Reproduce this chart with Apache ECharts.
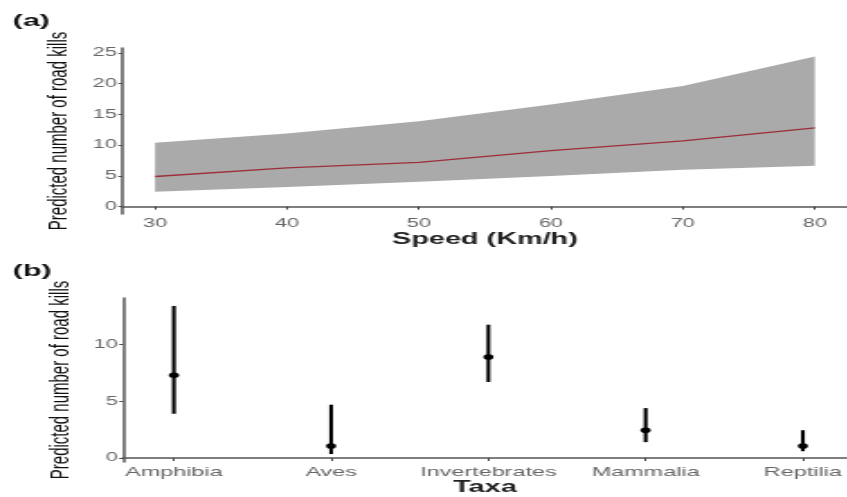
<!DOCTYPE html>
<html>
<head>
<meta charset="utf-8">
<script src="https://cdn.jsdelivr.net/npm/echarts@6/dist/echarts.min.js"></script>
<style>
html,body{margin:0;padding:0;background:#fff;overflow:hidden;width:847px;height:497px;}
#chart{width:470.56px;height:497px;transform:scaleX(1.8);transform-origin:0 0;}
</style>
</head>
<body>
<div id="chart"></div>
<script>
// Panel (a): predicted road kills vs speed
const speed = [30, 40, 50, 60, 70, 80];
const predFit = [4.9, 6.3, 7.2, 9.1, 10.7, 12.8];
const predLower = [2.4, 3.2, 4.05, 5.0, 6.0, 6.65];
const predUpper = [10.4, 11.9, 13.9, 16.6, 19.6, 24.4];
const speedTicks = [30, 40, 50, 60, 70, 80];
const killTicksA = [0, 5, 10, 15, 20, 25];

// Panel (b): predicted road kills by taxa
const taxa = ['Amphibia', 'Aves', 'Invertebrates', 'Mammalia', 'Reptilia'];
const taxaFit = [7.3, 1.05, 8.9, 2.45, 1.05];
const taxaLower = [3.9, 0.35, 6.7, 1.4, 0.6];
const taxaUpper = [13.4, 4.7, 11.75, 4.4, 2.45];
const killTicksB = [0, 5, 10];

const FONT = '"Liberation Sans", Arial, sans-serif';
const axisLineStyle = {color: '#555', width: 1.5};
const tickStyle = {color: '#444', width: 1};
const labelStyle = {color: '#666', fontSize: 12, fontFamily: FONT};

const bandData = speed.map((s, i) => [s, predLower[i], predUpper[i]]);
const fitData = predFit.map((v, i) => [speed[i], v]);
const taxaData = taxa.map((t, i) => [i + 1, taxaFit[i], taxaLower[i], taxaUpper[i]]);

const chart = echarts.init(document.getElementById('chart'), null, {renderer: 'canvas'});
chart.setOption({
  animation: false,
  backgroundColor: '#fff',
  title: [
    {text: '(a)', left: 2, top: 8, textStyle: {fontSize: 17, fontWeight: 'bold', color: '#111', fontFamily: FONT}},
    {text: '(b)', left: 2, top: 258, textStyle: {fontSize: 17, fontWeight: 'bold', color: '#111', fontFamily: FONT}}
  ],
  grid: [
    {left: 67.8, top: 48, width: 407.2, height: 166},
    {left: 68.3, top: 298, width: 402.2, height: 165}
  ],
  xAxis: [
    {
      type: 'value', gridIndex: 0, min: 27.5, max: 82.5,
      axisLine: {show: true, lineStyle: axisLineStyle},
      axisTick: {show: true, length: 3, lineStyle: tickStyle, customValues: speedTicks},
      axisLabel: Object.assign({margin: 4, customValues: speedTicks}, labelStyle),
      splitLine: {show: false},
      name: 'Speed (Km/h)', nameLocation: 'middle', nameGap: 18,
      nameTextStyle: {fontSize: 16, fontWeight: 'bold', color: '#222', fontFamily: FONT, verticalAlign: 'top'}
    },
    {
      type: 'value', gridIndex: 1, min: 0.676, max: 5.28,
      axisLine: {show: true, lineStyle: axisLineStyle},
      axisTick: {show: true, length: 3, lineStyle: tickStyle, customValues: [1, 2, 3, 4, 5]},
      axisLabel: Object.assign({margin: 4, customValues: [1, 2, 3, 4, 5],
        formatter: v => taxa[Math.round(v) - 1] || ''}, labelStyle, {fontSize: 13}),
      splitLine: {show: false},
      name: 'Taxa', nameLocation: 'middle', nameGap: 18,
      nameTextStyle: {fontSize: 16, fontWeight: 'bold', color: '#222', fontFamily: FONT, verticalAlign: 'top'}
    }
  ],
  yAxis: [
    {
      type: 'value', gridIndex: 0, min: -1.2, max: 25.8,
      axisLine: {show: true, lineStyle: axisLineStyle},
      axisTick: {show: true, length: 2, lineStyle: tickStyle, customValues: killTicksA},
      axisLabel: Object.assign({margin: 3, customValues: killTicksA}, labelStyle),
      splitLine: {show: false},
      name: 'Predicted number of road kills', nameLocation: 'middle', nameGap: 27,
      nameTextStyle: {fontSize: 15, color: '#111', fontFamily: FONT}
    },
    {
      type: 'value', gridIndex: 1, min: -0.35, max: 14.1,
      axisLine: {show: true, lineStyle: axisLineStyle},
      axisTick: {show: true, length: 2, lineStyle: tickStyle, customValues: killTicksB},
      axisLabel: Object.assign({margin: 3, customValues: killTicksB}, labelStyle),
      splitLine: {show: false},
      name: 'Predicted number of road kills', nameLocation: 'middle', nameGap: 27,
      nameTextStyle: {fontSize: 15, color: '#111', fontFamily: FONT}
    }
  ],
  series: [
    {
      type: 'custom', xAxisIndex: 0, yAxisIndex: 0, data: bandData,
      encode: {x: 0, y: [1, 2]}, silent: true, z: 1,
      renderItem: function (params, api) {
        if (params.dataIndex !== 0) return null;
        const upperPts = speed.map((s, i) => api.coord([s, predUpper[i]]));
        const lowerPts = speed.map((s, i) => api.coord([s, predLower[i]])).reverse();
        return {
          type: 'polygon',
          shape: {points: upperPts.concat(lowerPts)},
          style: {fill: '#aaaaaa', stroke: null}
        };
      }
    },
    {
      type: 'line', xAxisIndex: 0, yAxisIndex: 0, data: fitData, z: 3,
      symbol: 'none', lineStyle: {color: '#9c2f3a', width: 1.3}
    },
    {
      type: 'custom', xAxisIndex: 1, yAxisIndex: 1, data: taxaData,
      encode: {x: 0, y: [1, 2, 3]},
      renderItem: function (params, api) {
        const x = api.value(0);
        const p = api.coord([x, api.value(1)]);
        const lo = api.coord([x, api.value(2)]);
        const hi = api.coord([x, api.value(3)]);
        return {
          type: 'group',
          children: [
            {type: 'line', shape: {x1: lo[0], y1: lo[1], x2: hi[0], y2: hi[1]},
             style: {stroke: '#000', lineWidth: 2.1}},
            {type: 'circle', shape: {cx: p[0], cy: p[1], r: 2.8}, style: {fill: '#000'}}
          ]
        };
      }
    }
  ]
});
</script>
</body>
</html>
